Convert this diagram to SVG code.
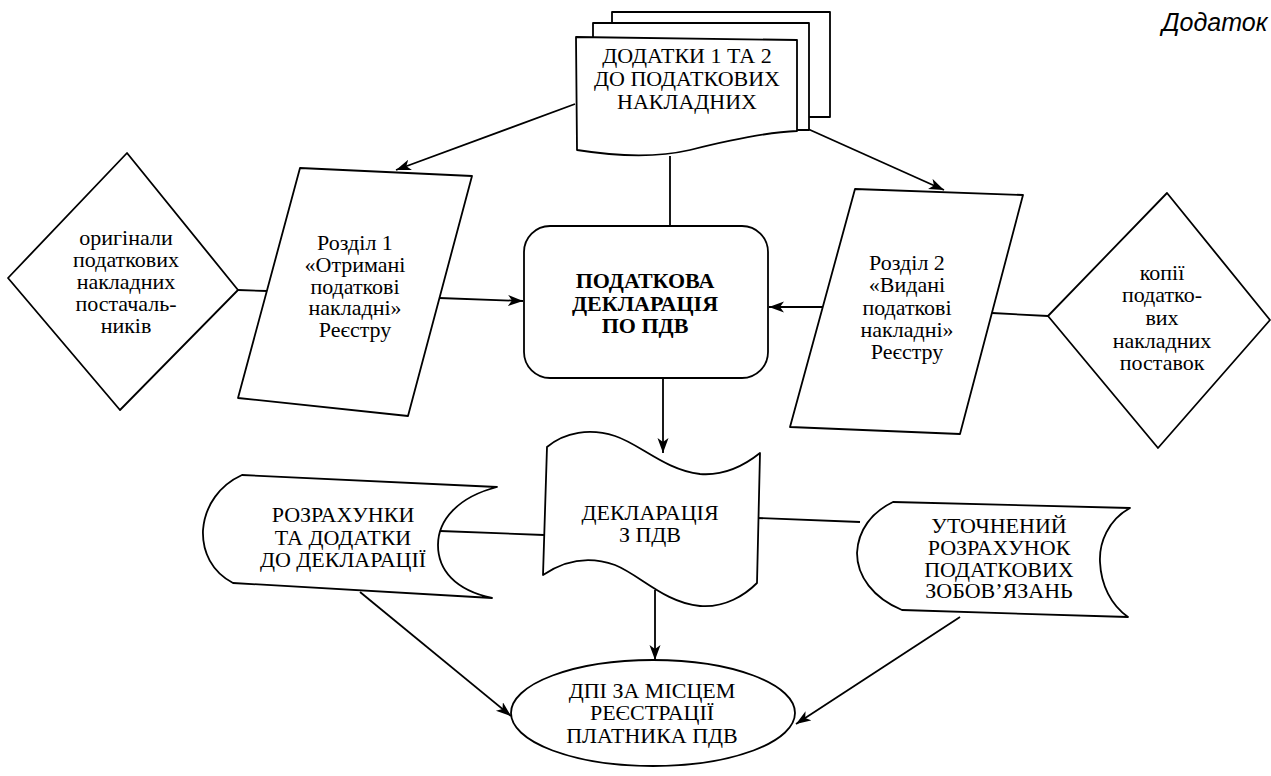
<svg xmlns="http://www.w3.org/2000/svg" width="1271" height="776" viewBox="0 0 1271 776">
<defs>
<style>
.s{fill:#fff;stroke:#000;stroke-width:1.8;stroke-linejoin:round}
.c{fill:none;stroke:#000;stroke-width:1.8}
.t{font-size:22px;fill:#000;text-anchor:middle}
.b{font-weight:bold}
</style>
<marker id="ar" markerUnits="userSpaceOnUse" markerWidth="16" markerHeight="12" refX="15" refY="5.5" orient="auto">
<path d="M0,0 L15,5.5 L0,11 L4,5.5 z" fill="#000"/>
</marker>
</defs>
<rect width="1271" height="776" fill="#fff"/>
<text x="1162" y="31" font-family="Liberation Sans, Arial, sans-serif" font-size="25" font-style="italic" fill="#000">Додаток</text>

<g id="connectors">
<line class="c" x1="575" y1="104" x2="396" y2="170" marker-end="url(#ar)"/>
<line class="c" x1="808" y1="129" x2="944" y2="190" marker-end="url(#ar)"/>
<line class="c" x1="670" y1="156" x2="670" y2="226"/>
<line class="c" x1="238" y1="290" x2="267" y2="291"/>
<line class="c" x1="439" y1="298" x2="523" y2="301" marker-end="url(#ar)"/>
<line class="c" x1="823" y1="307" x2="769" y2="307" marker-end="url(#ar)"/>
<line class="c" x1="992" y1="313" x2="1048" y2="316"/>
<line class="c" x1="663" y1="378" x2="663" y2="453" marker-end="url(#ar)"/>
<line class="c" x1="440" y1="531" x2="544" y2="535"/>
<line class="c" x1="757" y1="518" x2="860" y2="522"/>
<line class="c" x1="655" y1="590" x2="655" y2="660" marker-end="url(#ar)"/>
<line class="c" x1="360" y1="592" x2="511" y2="716" marker-end="url(#ar)"/>
<line class="c" x1="960" y1="617" x2="796" y2="724" marker-end="url(#ar)"/>
</g>

<g font-family="Liberation Serif, Times New Roman, DejaVu Serif, serif">
<g id="dodatky">
<rect class="s" x="612" y="12" width="218" height="105"/>
<rect class="s" x="593" y="23" width="216" height="107"/>
<path class="s" d="M576,37 L797,40 L797,131 C770,132 730,140 690,150 C655,158 615,156 577,150 Z"/>
<text class="t" x="687" y="63">ДОДАТКИ 1 ТА 2</text>
<text class="t" x="687" y="86">ДО ПОДАТКОВИХ</text>
<text class="t" x="687" y="109">НАКЛАДНИХ</text>
</g>

<g id="originaly">
<polygon class="s" points="127,153 238,290 120,410 8,278"/>
<text class="t" x="126" y="245">оригінали</text>
<text class="t" x="126" y="267">податкових</text>
<text class="t" x="126" y="289">накладних</text>
<text class="t" x="126" y="311">постачаль-</text>
<text class="t" x="126" y="333">ників</text>
</g>

<g id="rozdil1">
<polygon class="s" points="300,168 472,176 408,416 238,398"/>
<text class="t" x="355" y="250">Розділ 1</text>
<text class="t" x="355" y="272">«Отримані</text>
<text class="t" x="355" y="294">податкові</text>
<text class="t" x="355" y="315">накладні»</text>
<text class="t" x="355" y="337">Реєстру</text>
</g>

<g id="deklaratsiya">
<rect class="s" x="524" y="226" width="244" height="152" rx="26" ry="26"/>
<text class="t b" x="645" y="288">ПОДАТКОВА</text>
<text class="t b" x="645" y="311">ДЕКЛАРАЦІЯ</text>
<text class="t b" x="645" y="333">ПО ПДВ</text>
</g>

<g id="rozdil2">
<polygon class="s" points="855,189 1023,195 960,434 790,427"/>
<text class="t" x="907" y="270">Розділ 2</text>
<text class="t" x="907" y="292">«Видані</text>
<text class="t" x="907" y="315">податкові</text>
<text class="t" x="907" y="337">накладні»</text>
<text class="t" x="907" y="359">Реєстру</text>
</g>

<g id="kopii">
<polygon class="s" points="1167,193 1270,320 1158,448 1048,316"/>
<text class="t" x="1162" y="280">копії</text>
<text class="t" x="1162" y="302">податко-</text>
<text class="t" x="1162" y="325">вих</text>
<text class="t" x="1162" y="348">накладних</text>
<text class="t" x="1162" y="370">поставок</text>
</g>

<g id="deklaratsiya-pdv">
<path class="s" d="M547,447 C565,432 590,428 615,436 C640,444 665,470 700,474 C725,476 745,465 760,453 L757,583 C745,595 725,608 700,606 C665,603 640,575 615,565 C590,556 565,560 543,575 Z"/>
<text class="t" x="650" y="520">ДЕКЛАРАЦІЯ</text>
<text class="t" x="650" y="542">З ПДВ</text>
</g>

<g id="rozrakhunky">
<path class="s" d="M242,475 L497,487 C458,497 438,520 438,545 C438,570 455,590 492,598 L233,583 C212,572 202,552 203,530 C205,505 220,485 242,475 Z"/>
<text class="t" x="343" y="522">РОЗРАХУНКИ</text>
<text class="t" x="343" y="545">ТА ДОДАТКИ</text>
<text class="t" x="343" y="567">ДО ДЕКЛАРАЦІЇ</text>
</g>

<g id="utochnenyi">
<path class="s" d="M893,502 L1130,508 C1108,520 1099,543 1100,562 C1101,585 1111,605 1128,617 L902,610 C873,598 857,576 857,553 C858,530 872,512 893,502 Z"/>
<text class="t" x="999" y="533">УТОЧНЕНИЙ</text>
<text class="t" x="999" y="555">РОЗРАХУНОК</text>
<text class="t" x="999" y="577">ПОДАТКОВИХ</text>
<text class="t" x="999" y="598">ЗОБОВ’ЯЗАНЬ</text>
</g>

<g id="dpi">
<ellipse class="s" cx="653" cy="713" rx="142" ry="53"/>
<text class="t" x="652" y="698">ДПІ ЗА МІСЦЕМ</text>
<text class="t" x="652" y="720">РЕЄСТРАЦІЇ</text>
<text class="t" x="652" y="743">ПЛАТНИКА ПДВ</text>
</g>
</g>
</svg>
